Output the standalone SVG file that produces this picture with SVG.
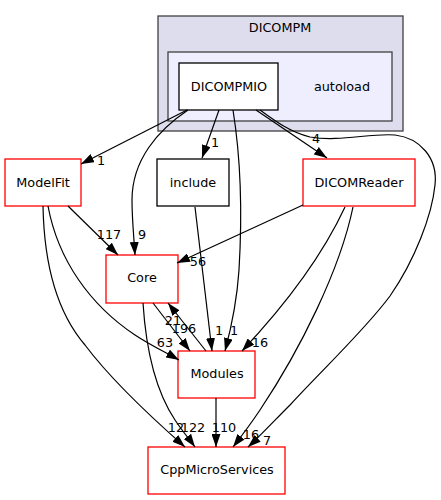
<svg xmlns="http://www.w3.org/2000/svg" width="441" height="500" viewBox="0 0 441 500">
<style>
text{font-family:"DejaVu Sans","Liberation Sans",sans-serif;font-size:12.8px;fill:#000;text-anchor:middle}
.node{fill:#fff;stroke-width:1.3}
.red{stroke:#ff0000}
.blk{stroke:#000}
.clu{stroke:#404040;stroke-width:1.3}
#edges path{fill:none;stroke:#000;stroke-width:1.2;marker-end:url(#arr)}
</style>
<defs>
<marker id="arr" markerUnits="userSpaceOnUse" markerWidth="13" markerHeight="9" refX="13" refY="4.5" orient="auto">
<path d="M0,0 L13,4.5 L0,9 z" fill="#000"/>
</marker>
</defs>
<rect width="441" height="500" fill="#fff"/>
<g id="cluster_DICOMPM">
<rect class="clu" x="158" y="16" width="245" height="115" fill="#ddddee"/>
<text x="280" y="32">DICOMPM</text>
</g>
<g id="cluster_autoload">
<rect class="clu" x="168" y="52" width="224" height="69" fill="#eeeeff"/>
<text x="342" y="91">autoload</text>
</g>
<g id="node_DICOMPMIO">
<rect class="node blk" x="179" y="63" width="99" height="47"/>
<text x="229" y="91">DICOMPMIO</text>
</g>
<g id="node_ModelFit">
<rect class="node red" x="5" y="159" width="76" height="47"/>
<text x="43" y="187">ModelFit</text>
</g>
<g id="node_include">
<rect class="node blk" x="157" y="159" width="72" height="47"/>
<text x="193" y="187">include</text>
</g>
<g id="node_DICOMReader">
<rect class="node red" x="303" y="159" width="112" height="47"/>
<text x="359" y="187">DICOMReader</text>
</g>
<g id="node_Core">
<rect class="node red" x="106" y="255" width="72" height="48"/>
<text x="142" y="282">Core</text>
</g>
<g id="node_Modules">
<rect class="node red" x="178" y="351" width="77" height="47"/>
<text x="217" y="378">Modules</text>
</g>
<g id="node_CppMicroServices">
<rect class="node red" x="148" y="447" width="137" height="47"/>
<text x="217" y="474">CppMicroServices</text>
</g>
<g id="edges">
<path d="M187,110 L81,164"/>
<text x="101" y="165">1</text>
<path d="M188,110 C158,130 132,160 132,200 C132,220 134,238 135,255"/>
<text x="142" y="239">9</text>
<path d="M219,110 L202,158"/>
<text x="215" y="147">1</text>
<path d="M233,110 C241,160 242,220 239,270 C237,300 232,325 225,351"/>
<text x="234" y="335">1</text>
<path d="M256,110 L327,158"/>
<text x="316" y="143">4</text>
<path d="M260,110 C275,121 290,132 310,137 C340,142 370,133 395,135 C420,138 438,158 435,185 C432,215 415,260 390,296 C365,330 320,372 290,405 C275,420 258,438 248,447"/>
<text x="267" y="445">7</text>
<path d="M68,206 L118,255"/>
<text x="109" y="239">117</text>
<path d="M303,205 L177,263"/>
<text x="198" y="266">56</text>
<path d="M48,206 C58,260 90,305 135,335 C150,345 165,352 179,360"/>
<text x="165" y="347">63</text>
<path d="M43,206 C44,260 55,310 85,345 C115,385 160,425 185,447"/>
<text x="176" y="432">12</text>
<path d="M153,303 L190,351"/>
<text x="184" y="333">196</text>
<path d="M206,351 L168,303"/>
<text x="173" y="325">21</text>
<path d="M143,303 C146,350 155,390 175,420 C183,432 190,440 195,447"/>
<text x="193" y="432">122</text>
<path d="M216,398 L216,447"/>
<text x="224" y="432">110</text>
<path d="M195,207 L212,351"/>
<text x="219" y="335">1</text>
<path d="M345,207 C325,250 290,300 242,351"/>
<text x="260" y="347">16</text>
<path d="M353,207 C340,270 300,350 260,410 C250,425 240,438 233,447"/>
<text x="251" y="439">16</text>
</g>
</svg>
